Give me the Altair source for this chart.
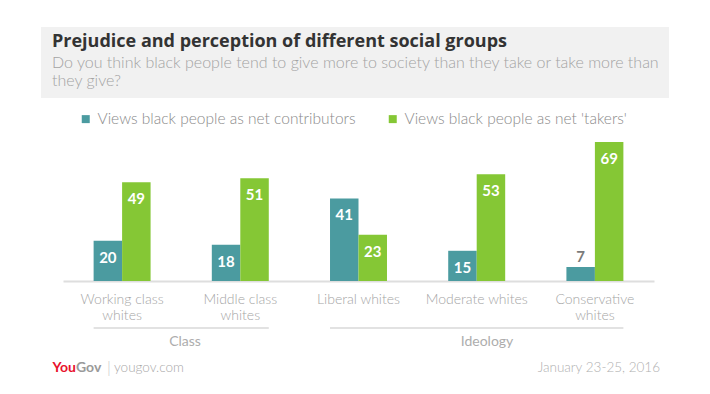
import altair as alt
import pandas as pd

# ---- data ----
categories = ["Working class whites", "Middle class whites", "Liberal whites",
              "Moderate whites", "Conservative whites"]
category_lines = [["Working class", "whites"], ["Middle class", "whites"],
                  ["Liberal whites"], ["Moderate whites"], ["Conservative", "whites"]]
series = ["Views black people as net contributors", "Views black people as net 'takers'"]
contributors = [20, 18, 41, 15, 7]
takers = [49, 51, 23, 53, 69]
groups = ["Class", "Ideology"]
group_start = ["Working class whites", "Liberal whites"]
group_end = ["Middle class whites", "Conservative whites"]
colors = ["#4b9ba0", "#85c735"]

title_text = "Prejudice and perception of different social groups"
subtitle_lines = ["Do you think black people tend to give more to society than they take or take more than",
                  "they give?"]
source_text = "yougov.com"
date_text = "January 23-25, 2016"

rows = []
for c, a, b in zip(categories, contributors, takers):
    rows.append({"category": c, "series": series[0], "value": a})
    rows.append({"category": c, "series": series[1], "value": b})
df = pd.DataFrame(rows)
gdf = pd.DataFrame({"group": groups, "category": group_start, "category_end": group_end})
one = pd.DataFrame({"k": [0]})


def js(s):
    return "'" + s.replace("\\", "\\\\").replace("'", "\\'") + "'"


label_expr = "datum.label"
for c, lines in reversed(list(zip(categories, category_lines))):
    arr = "[" + ",".join(js(l) for l in lines) + "]"
    label_expr = f"datum.value == {js(c)} ? {arr} : ({label_expr})"

FONT = "Lato"
W, H = 591, 141

x_scale = alt.Scale(domain=categories, paddingInner=0.518, paddingOuter=0.259)
y_scale = alt.Scale(domain=[0, 70], nice=False)
off_scale = alt.Scale(domain=series, paddingInner=0, paddingOuter=0)
color_scale = alt.Scale(domain=series, range=colors)

x_axis = alt.Axis(labelExpr=label_expr, labelFont=FONT, labelFontSize=14,
                  labelFontWeight=300, labelColor="#a5a5a5", labelPadding=11,
                  labelLineHeight=16, labelAngle=0, ticks=False,
                  domainColor="#dedede", domainWidth=2, grid=False,
                  labelLimit=200)

base = alt.Chart(df).encode(
    x=alt.X("category:N", scale=x_scale, sort=categories, title=None, axis=x_axis),
    xOffset=alt.XOffset("series:N", scale=off_scale, sort=series),
    y=alt.Y("value:Q", scale=y_scale, axis=None),
)

bars = base.mark_bar().encode(
    color=alt.Color("series:N", scale=color_scale, sort=series,
                    legend=alt.Legend(orient="none", legendX=15, legendY=-29,
                                      direction="horizontal", title=None,
                                      symbolType="square", symbolSize=64,
                                      symbolStrokeWidth=0, labelFont=FONT,
                                      labelFontSize=15.5, labelFontWeight=300,
                                      labelColor="#8a8a8a", labelOffset=4,
                                      columnPadding=29, labelLimit=400))
)

labels_in = base.mark_text(baseline="middle", dy=17, font=FONT, fontWeight="bold",
                           fontSize=15, color="white").encode(
    text="value:Q").transform_filter("datum.value >= 10")
labels_out = base.mark_text(baseline="middle", dy=-10, font=FONT, fontWeight="bold",
                            fontSize=15, color="#7a7a7a").encode(
    text="value:Q").transform_filter("datum.value < 10")

glines = alt.Chart(gdf).mark_rule(color="#e2e2e2", strokeWidth=2).encode(
    x=alt.X("category:N", scale=x_scale, sort=categories, bandPosition=0,
            title=None, axis=x_axis),
    x2=alt.X2("category_end:N", bandPosition=1),
    y=alt.value(188),
)

gtext_style = dict(font=FONT, fontSize=14, fontWeight="normal", color="#adadad",
                   baseline="middle", align="center")
glabel1 = alt.Chart(one).mark_text(text=groups[0], **gtext_style).encode(
    x=alt.value(122), y=alt.value(202))
glabel2 = alt.Chart(one).mark_text(text=groups[1], **gtext_style).encode(
    x=alt.value(424), y=alt.value(202))

header = alt.Chart(one).mark_rect(color="#f1f1f1").encode(
    x=alt.value(-22), x2=alt.value(606), y=alt.value(-113), y2=alt.value(-42))
title = alt.Chart(one).mark_text(text=title_text, font="Open Sans", fontWeight="bold",
                                 fontSize=18, color="#333333", align="left",
                                 baseline="middle").encode(
    x=alt.value(-11), y=alt.value(-98))
sub1 = alt.Chart(one).mark_text(text=subtitle_lines[0], font=FONT, fontWeight=300,
                                fontSize=16, color="#a3a3a3", align="left",
                                baseline="middle").encode(
    x=alt.value(-11), y=alt.value(-77))
sub2 = alt.Chart(one).mark_text(text=subtitle_lines[1], font=FONT, fontWeight=300,
                                fontSize=16, color="#a3a3a3", align="left",
                                baseline="middle").encode(
    x=alt.value(-11), y=alt.value(-59))

logo_red = alt.Chart(one).mark_text(text="You", font=FONT, fontWeight="bold",
                                    fontSize=14, color="#e8112d", align="right",
                                    baseline="middle").encode(
    x=alt.value(13), y=alt.value(228))
logo_grey = alt.Chart(one).mark_text(text="Gov", font=FONT, fontWeight="bold",
                                     fontSize=14, color="#9a9a9a", align="left",
                                     baseline="middle").encode(
    x=alt.value(13), y=alt.value(228))
sep = alt.Chart(one).mark_text(text="|", font=FONT, fontWeight=300, fontSize=16,
                               color="#c8c8c8", align="left", baseline="middle").encode(
    x=alt.value(44), y=alt.value(228))
source = alt.Chart(one).mark_text(text=source_text, font=FONT, fontWeight=300,
                                  fontSize=13.5, color="#a8a8a8", align="left",
                                  baseline="middle").encode(
    x=alt.value(51), y=alt.value(228))
date = alt.Chart(one).mark_text(text=date_text, font=FONT, fontWeight=300,
                                fontSize=13.5, color="#b0b0b0", align="right",
                                baseline="middle").encode(
    x=alt.value(597), y=alt.value(228))

chart = alt.layer(
    bars, labels_in, labels_out, glines, header, title, sub1, sub2, glabel1, glabel2,
    logo_red, logo_grey, sep, source, date
).properties(
    width=W, height=H,
    padding={"left": 55, "top": 132, "right": 48, "bottom": 105},
    autosize=alt.AutoSizeParams(type="none"),
    background="white",
).configure_view(stroke=None)

chart.save("out.html", embed_options={"renderer": "svg", "actions": False})
